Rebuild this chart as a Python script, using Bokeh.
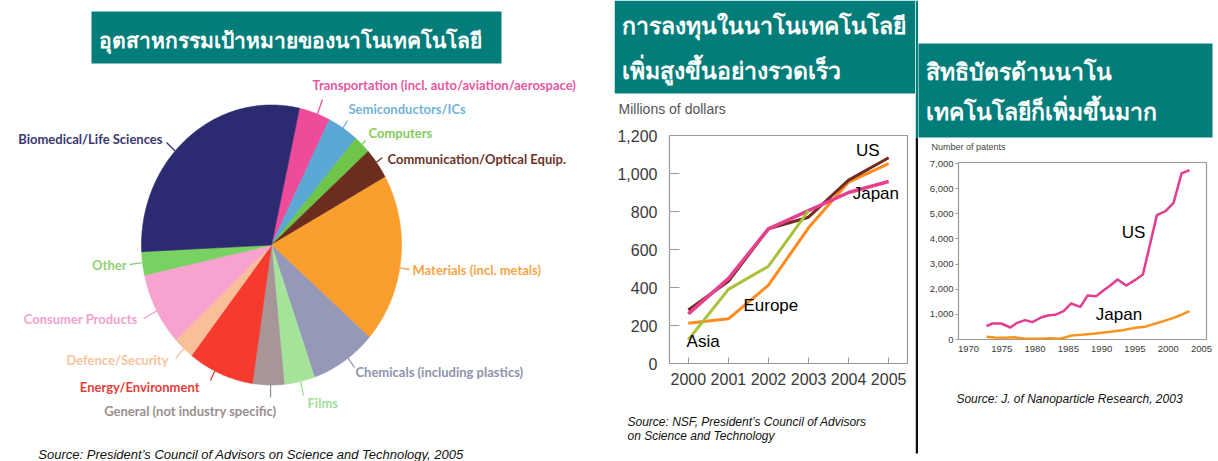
import numpy as np
from bokeh.plotting import figure
from bokeh.layouts import row, column
from bokeh.models import Range1d, FixedTicker, NumeralTickFormatter
from bokeh.core.properties import value
from bokeh.embed import file_html
from bokeh.resources import INLINE

# ---------------- data ----------------
pie_labels = ["Transportation (incl. auto/aviation/aerospace)", "Semiconductors/ICs", "Computers",
              "Communication/Optical Equip.", "Materials (incl. metals)", "Chemicals (including plastics)",
              "Films", "General (not industry specific)", "Energy/Environment", "Defence/Security",
              "Consumer Products", "Other", "Biomedical/Life Sciences"]
pie_shares = [3.9, 3.9, 2.1, 3.6, 19.5, 8.2, 3.8, 3.9, 8.2, 2.6, 8.4, 2.7, 29.2]
pie_colors = ["#ee4b9b", "#5ba8d4", "#6ec54a", "#6b2d1e", "#fa9f2d", "#9599b7", "#a6e49c",
              "#a79598", "#f73a2e", "#f9bf98", "#f7a2cf", "#79d161", "#2c2b72"]
pie_label_colors = ["#e8589f", "#72b3d8", "#86cb5c", "#6d3329", "#f5a548", "#8e92ad", "#a3dd9a",
                    "#9a8e90", "#e6403a", "#f6c3a0", "#f2a3cb", "#8fd176", "#3a3970"]

invest_years = [2000, 2001, 2002, 2003, 2004, 2005]
invest_us = [282, 433, 709, 770, 965, 1083]
invest_japan = [261, 447, 709, 805, 900, 958]
invest_europe = [212, 235, 412, 714, 955, 1052]
invest_asia_years = [2000, 2001, 2002, 2003]
invest_asia = [125, 390, 512, 804]
invest_yticks = [0, 200, 400, 600, 800, 1000, 1200]

patent_us_years = [1972.7, 1973.6, 1974.9, 1976.3, 1977.3, 1978.5, 1979.6, 1980.9, 1981.9, 1983.0,
                   1984.3, 1985.4, 1986.8, 1987.9, 1989.2, 1990.3, 1991.3, 1992.4, 1993.7, 1995.0,
                   1996.2, 1998.3, 1999.6, 2000.8, 2002.0, 2003.2]
patent_us = [530, 636, 636, 477, 663, 769, 690, 875, 955, 981, 1127, 1432, 1300, 1750, 1724, 1962,
             2148, 2387, 2148, 2360, 2586, 4946, 5105, 5437, 6604, 6736]
patent_jp_years = [1972.7, 1974.0, 1975.5, 1976.8, 1978.5, 1981.0, 1982.3, 1983.5, 1984.3, 1985.5,
                   1987.0, 1989.1, 1991.3, 1993.1, 1995.1, 1996.5, 1998.1, 1999.3, 2000.8, 2002.1, 2003.2]
patent_jp = [106, 80, 66, 93, 27, 27, 53, 27, 66, 159, 186, 239, 305, 371, 464, 504, 636, 729, 862, 995, 1127]
patent_xticks = [1970, 1975, 1980, 1985, 1990, 1995, 2000, 2005]
patent_yticks = [0, 1000, 2000, 3000, 4000, 5000, 6000, 7000]

title1 = "อุตสาหกรรมเป้าหมายของนาโนเทคโนโลยี"
title2 = ["การลงทุนในนาโนเทคโนโลยี", "เพิ่มสูงขึ้นอย่างรวดเร็ว"]
title3 = ["สิทธิบัตรด้านนาโน", "เทคโนโลยีก็เพิ่มขึ้นมาก"]
source1 = "Source: President\u2019s Council of Advisors on Science and Technology, 2005"
source2 = ["Source: NSF, President\u2019s Council of Advisors", " on Science and Technology"]
source3 = "Source: J. of Nanoparticle Research, 2003"

# ---------------- style / layout ----------------
TEAL = "#037d7a"
THAI = value("Noto Sans")
SANS = value("Liberation Sans")
LBL = value("Lato")


def canvas(x0, x1, y0, y1, bg="white"):
    f = figure(width=x1 - x0, height=y1 - y0, x_range=Range1d(x0, x1), y_range=Range1d(y1, y0),
               output_backend="svg", toolbar_location=None, min_border=0,
               x_axis_location=None, y_axis_location=None,
               background_fill_color=bg, border_fill_color=bg, outline_line_color=None)
    f.xgrid.visible = False
    f.ygrid.visible = False
    return f


def banner(f, left, right, top, bottom, color=TEAL):
    f.quad(left=[left], right=[right], top=[top], bottom=[bottom], fill_color=color, line_color=None)


def thai(f, xs, ys, texts, size):
    f.text(x=xs, y=ys, text=texts, text_font=THAI, text_font_size=value(size), text_font_style="bold",
           text_color="white", text_align="left", text_baseline="alphabetic")


# ---------- panel 1 : pie ----------
p1 = canvas(0, 614, 0, 461)
banner(p1, 91, 501, 11, 63)
thai(p1, [98], [39], [title1], "21px")

cx, cy, rx, ry = 271.0, 244.5, 130.0, 140.0
start_deg = 12.4
fr = np.array(pie_shares) / np.sum(pie_shares)
edges = start_deg + 360.0 * np.concatenate([[0.0], np.cumsum(fr)])
xs, ys = [], []
for a0, a1 in zip(edges[:-1], edges[1:]):
    t = np.radians(np.linspace(a0, a1, 80))
    xs.append(np.concatenate([[cx], cx + rx * np.sin(t)]))
    ys.append(np.concatenate([[cy], cy - ry * np.cos(t)]))
p1.patches(xs, ys, fill_color=pie_colors, line_color=pie_colors, line_width=0.6)

# label layout: leader outer end, text anchor, alignment
leader_end = [(322, 99), (347, 120), (365, 140), (382, 157), (409, 269), (354, 367), (303, 395),
              (270, 397), (210, 380), (175, 358), (143, 318), (129, 264), (166, 142)]
text_pos = [(312, 84, "left"), (348, 108, "left"), (368, 132, "left"), (387, 158, "left"),
            (412, 269, "left"), (355, 371, "left"), (307, 402, "left"), (276, 410, "right"),
            (199, 386, "right"), (168, 359, "right"), (137, 318, "right"), (126, 264, "right"),
            (162, 138, "right")]
lx = np.array([e[0] for e in leader_end], float)
ly = np.array([e[1] for e in leader_end], float)
nrm = np.sqrt(((lx - cx) / rx) ** 2 + ((ly - cy) / ry) ** 2)
rim_x = cx + (lx - cx) / nrm
rim_y = cy + (ly - cy) / nrm
p1.segment(x0=rim_x, y0=rim_y, x1=lx, y1=ly, line_color=pie_label_colors, line_width=1.3)
for align in ("left", "right"):
    idx = [i for i, t in enumerate(text_pos) if t[2] == align]
    p1.text(x=[text_pos[i][0] for i in idx], y=[text_pos[i][1] for i in idx],
            text=[pie_labels[i] for i in idx], text_color=[pie_label_colors[i] for i in idx],
            text_font=LBL, text_font_style="bold", text_font_size=value("13px"),
            text_align=align, text_baseline="middle")
p1.text(x=[250.5], y=[454], text=[source1], text_font=SANS, text_font_style="italic",
        text_font_size=value("13px"), text_color="#111111", text_align="center", text_baseline="middle")


def style_chart(f, xticks, yticks, fsize, tick_in, tick_out, standoff_x, standoff_y):
    f.xgrid.visible = False
    f.ygrid.visible = False
    f.outline_line_color = "#9a9a9a"
    f.outline_line_width = 1.2
    f.xaxis.ticker = FixedTicker(ticks=xticks)
    f.yaxis.ticker = FixedTicker(ticks=yticks)
    f.yaxis.formatter = NumeralTickFormatter(format="0,0")
    for ax in (f.xaxis, f.yaxis):
        ax.axis_line_color = None
        ax.minor_tick_line_color = None
        ax.major_tick_line_color = "#9a9a9a"
        ax.major_label_text_font = "Liberation Sans"
        ax.major_label_text_color = "#3a3a3a"
        ax.major_label_text_font_size = fsize
    f.xaxis.major_tick_in = tick_in[0]
    f.xaxis.major_tick_out = tick_out[0]
    f.yaxis.major_tick_in = tick_in[1]
    f.yaxis.major_tick_out = tick_out[1]
    f.xaxis.major_label_standoff = standoff_x
    f.yaxis.major_label_standoff = standoff_y


# ---------- panel 2 : investment ----------
top2 = canvas(614, 915, 0, 122)
banner(top2, 614, 918, 0, 93)
thai(top2, [621, 621], [24, 69], title2, "23px")
top2.text(x=[618], y=[108], text=["Millions of dollars"], text_font=SANS, text_font_size=value("14px"),
          text_color="#555555", text_align="left", text_baseline="middle")

c2 = figure(width=301, height=278, x_range=Range1d(1999.53, 2005.47), y_range=Range1d(0, 1200),
            output_backend="svg", toolbar_location=None,
            min_border_left=54, min_border_right=8, min_border_top=13, min_border_bottom=37,
            background_fill_color="white", border_fill_color="white")
style_chart(c2, invest_years, invest_yticks, "16px", (6, 10), (0, 0), 9, 12)
c2.line(invest_years, invest_europe, line_color="#ff8a1e", line_width=3, line_join="round")
c2.line(invest_years, invest_us, line_color="#722a1f", line_width=3, line_join="round")
c2.line(invest_years, invest_japan, line_color="#e6408e", line_width=3.5, line_join="round")
c2.line(invest_asia_years, invest_asia, line_color="#a9c23c", line_width=3, line_join="round")
c2.text(x=[2004.48, 2004.68, 2002.06, 2000.37], y=[1120, 894, 306, 117],
        text=["US", "Japan", "Europe", "Asia"], text_font=SANS, text_font_size=value("17px"),
        text_color="black", text_align="center", text_baseline="middle")

src2 = canvas(614, 915, 400, 461)
src2.text(x=[627, 627], y=[421, 435], text=source2, text_font=SANS, text_font_style="italic",
          text_font_size=value("12px"), text_color="#111111", text_align="left", text_baseline="middle")

# ---------- divider ----------
div = canvas(915, 918, 0, 461)
banner(div, 915, 918, 0, 137)
banner(div, 915, 918, 137, 453, color="#111111")

# ---------- panel 3 : patents ----------
top3 = canvas(918, 1218, 0, 155)
banner(top3, 915, 1212, 43, 137)
thai(top3, [925, 925], [70, 110], title3, "23px")
top3.text(x=[931], y=[146], text=["Number of patents"], text_font=SANS, text_font_size=value("9px"),
          text_color="#444444", text_align="left", text_baseline="middle")

c3 = figure(width=300, height=215, x_range=Range1d(1968.5, 2005.75), y_range=Range1d(0, 7040),
            output_backend="svg", toolbar_location=None,
            min_border_left=40, min_border_right=12, min_border_top=7, min_border_bottom=31,
            background_fill_color="white", border_fill_color="white")
style_chart(c3, patent_xticks, patent_yticks, "9.5px", (0, 0), (0, 3), 6, 2)
c3.line(patent_jp_years, patent_jp, line_color="#f7941d", line_width=2.5, line_join="round")
c3.line(patent_us_years, patent_us, line_color="#e33d91", line_width=2.5, line_join="round")
c3.text(x=[1994.8, 1992.6], y=[4270, 1006], text=["US", "Japan"], text_font=SANS,
        text_font_size=value("17px"), text_color="black", text_align="center", text_baseline="middle")

src3 = canvas(918, 1218, 370, 461)
src3.text(x=[1069], y=[398], text=[source3], text_font=SANS, text_font_style="italic",
          text_font_size=value("12px"), text_color="#111111", text_align="center", text_baseline="middle")

layout = row(p1,
             column(row(top2), row(c2), row(src2)),
             div,
             column(row(top3), row(c3), row(src3)))
open("out.html", "w").write(file_html(layout, INLINE))
